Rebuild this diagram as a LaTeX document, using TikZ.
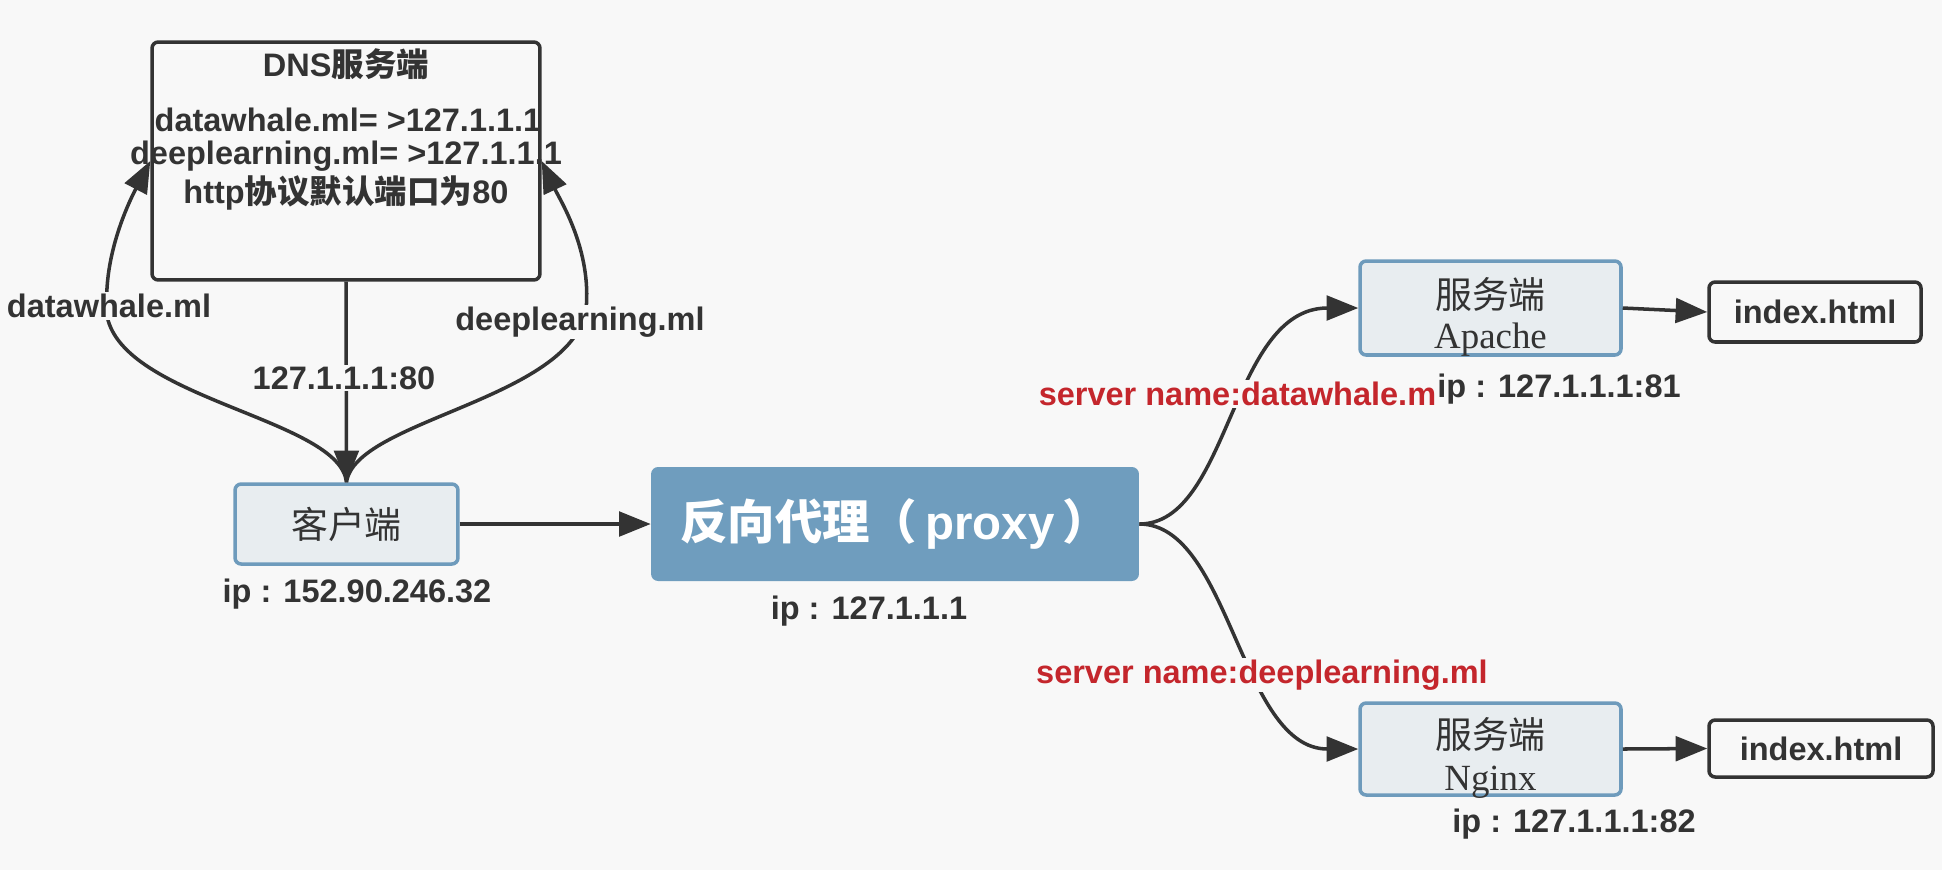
\documentclass[tikz,border=0pt]{standalone}
\usepackage{fontspec}
\setmainfont{Liberation Sans}
\newfontfamily\cjk{Noto Sans CJK SC}
\newfontfamily\serifl{Liberation Serif}
\usetikzlibrary{arrows.meta}
\definecolor{bg}{HTML}{F8F8F8}
\definecolor{dk}{HTML}{333333}
\definecolor{bd}{HTML}{6E9BBC}
\definecolor{lf}{HTML}{E8EDF0}
\definecolor{px}{HTML}{6F9DBE}
\definecolor{rd}{HTML}{C4262C}
\tikzset{
  conn/.style={draw=dk, line width=2pt},
  arr/.style={-{Triangle[length=18pt,width=14pt]}},
  lbl/.style={font=\fontsize{18.5}{21}\selectfont\bfseries, text=dk, inner sep=1pt},
  lblbg/.style={lbl, fill=bg},
  lightbox/.style={draw=bd, fill=lf, line width=2pt, rounded corners=3.5pt, inner sep=0pt, text=dk},
  darkbox/.style={draw=dk, fill=bg, line width=2pt, rounded corners=3.5pt, inner sep=0pt},
  cjktext/.style={font=\cjk\fontsize{21}{24}\selectfont, text=dk, inner sep=0pt},
  sertext/.style={font=\serifl\fontsize{21}{24}\selectfont, text=dk, inner sep=0pt},
}
\begin{document}
\begin{tikzpicture}[x=0.02cm,y=-0.02cm]
\fill[bg] (0,0) rectangle (1942,870);
\useasboundingbox (0,0) rectangle (1942,870);

% boxes
\node[darkbox, minimum width=7.76cm, minimum height=4.76cm] (dns) at (346,161) {};
\node[lightbox, minimum width=4.46cm, minimum height=1.6cm, font=\cjk\fontsize{21}{24}\selectfont] (client) at (346.5,524) {客户端};
\node[fill=px, rounded corners=4pt, minimum width=9.76cm, minimum height=2.28cm, inner sep=0pt, text=white, font=\fontsize{27}{30}\selectfont\bfseries] (proxy) at (895,524) {{\cjk 反向代理（}\,proxy\,{\cjk ）}};
\node[lightbox, minimum width=5.22cm, minimum height=1.88cm] (apache) at (1490.5,308) {};
\node[cjktext] (apT) at (1490.5,294) {服务端};
\node[sertext] (apS) at (1490.5,340) {Apache};
\node[lightbox, minimum width=5.22cm, minimum height=1.84cm] (nginx) at (1490.5,749) {};
\node[cjktext] (ngT) at (1490.5,734) {服务端};
\node[sertext] (ngS) at (1490.5,782) {Nginx};
\node[darkbox, minimum width=4.24cm, minimum height=1.2cm, font=\fontsize{18.5}{21}\selectfont\bfseries, text=dk] (idx1) at (1815,312) {index.html};
\node[darkbox, minimum width=4.48cm, minimum height=1.14cm, font=\fontsize{18.5}{21}\selectfont\bfseries, text=dk] (idx2) at (1821,748.5) {index.html};

% DNS texts
\node[lbl] (dnst) at (346,64) {DNS{\cjk 服务端}};
\node[lbl] (dns1) at (348,120) {datawhale.ml= >127.1.1.1};
\node[lbl] (dns2) at (346,156) {deeplearning.ml= >127.1.1.1};
\node[lbl] (dns3) at (346,193) {http{\cjk 协议默认端口为}80};

% connectors
\draw[conn,arr] (dns.south) -- (client.north);
\draw[conn,arr] (client.north) .. controls (340,420) and (130,400) .. (108,320) .. controls (100,260) and (130,200) .. (dns.west);
\draw[conn,arr] (client.north) .. controls (355,420) and (570,400) .. (586,310) .. controls (592,250) and (560,200) .. (dns.east);
\draw[conn,arr] (client) -- (proxy);
\draw[conn,arr] (proxy.east) .. controls (1230,524) and (1230,308) .. (apache.west);
\draw[conn,arr] (proxy.east) .. controls (1230,524) and (1240,749) .. (nginx.west);
\draw[conn,arr] (apache.east) -- (idx1.west);
\draw[conn,arr] (nginx.east) -- (idx2.west);

% labels
\node[lblbg] (l80) at (344,378) {127.1.1.1:80};
\node[lblbg] (ldw) at (109,306) {datawhale.ml};
\node[lblbg] (ldl) at (580,322) {deeplearning.ml};
\node[lbl] (ipc) at (357,594) {ip : 152.90.246.32};
\node[lbl] (ipp) at (869,611) {ip : 127.1.1.1};
\node[lblbg, text=rd] (sn1) at (1242,394) {server name:datawhale.ml};
\node[lblbg] (ip1) at (1559,389) {ip : 127.1.1.1:81};
\node[lblbg, text=rd] (sn2) at (1262,675) {server name:deeplearning.ml};
\node[lbl] (ip2) at (1574,824) {ip : 127.1.1.1:82};
\end{tikzpicture}
\end{document}
